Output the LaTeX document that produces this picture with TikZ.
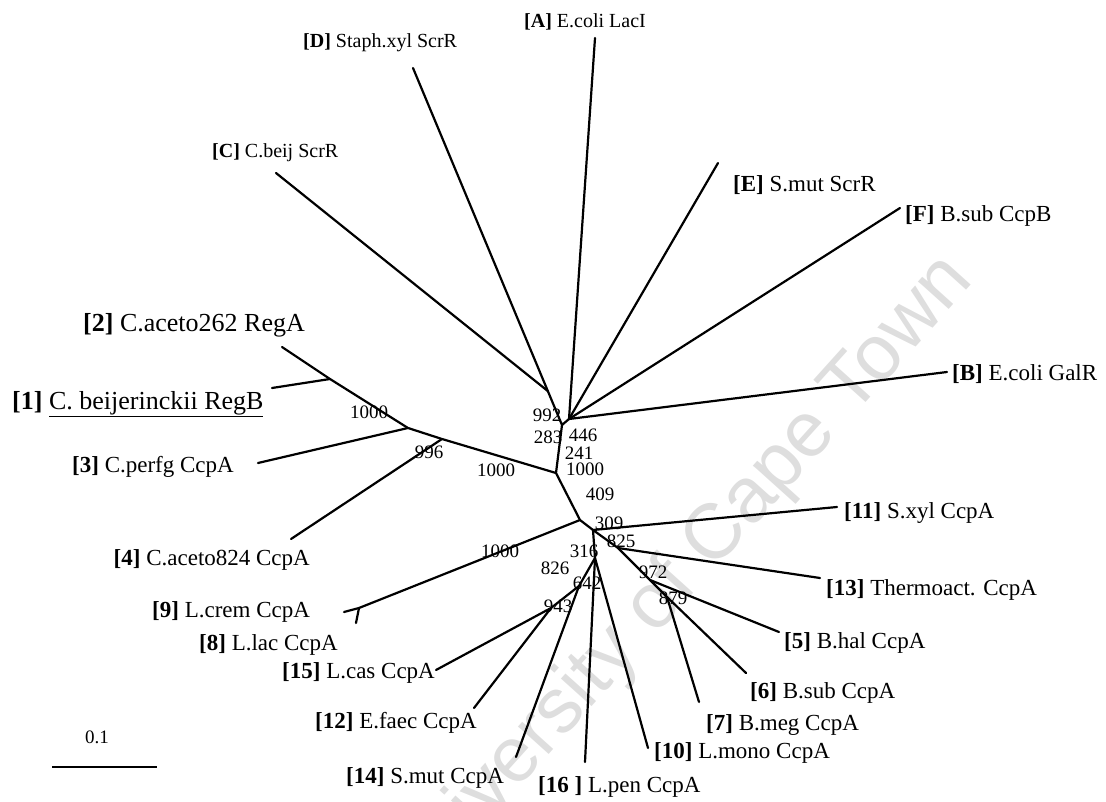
\documentclass[tikz,border=0pt]{standalone}
\usepackage{fontspec}
\usetikzlibrary{calc}
\setmainfont{Liberation Serif}
\newfontfamily\wmfont{Liberation Sans}
\begin{document}
\begin{tikzpicture}[x=1pt,y=-1pt,
  br/.style={line width=2.2pt,line cap=round},
  labs/.style={font=\fontsize{20}{22}\selectfont,inner sep=0pt,anchor=west},
  lab/.style={font=\fontsize{23}{25}\selectfont,inner sep=0pt,anchor=west},
  labl/.style={font=\fontsize{26}{28}\selectfont,inner sep=0pt,anchor=west},
  bs/.style={font=\fontsize{19}{21}\selectfont,inner sep=0pt}]
\useasboundingbox (0,0) rectangle (1106,802);
% watermark
\node[font=\wmfont\fontsize{78}{80}\selectfont,text=black!13,rotate=48,anchor=east,inner sep=0pt] (wm) at (960,268) {University of Cape Town};
% internal nodes
\coordinate (T) at (569,419);
\coordinate (ND) at (562,425);
\coordinate (L1) at (556,473);
\coordinate (N996) at (442,439);
\coordinate (NL) at (408,428);
\coordinate (N1) at (330,379);
\coordinate (L2) at (580,520);
\coordinate (N309) at (593,530);
\coordinate (N825) at (618,548);
\coordinate (N316) at (595,558);
\coordinate (N642) at (579,586);
\coordinate (N943) at (551,608);
\coordinate (N972) at (650,580);
\coordinate (N879) at (667,597);
\coordinate (N8) at (359,608);
% leaves
\coordinate (lA) at (595,38);
\coordinate (lD) at (413,68);
\coordinate (lC) at (276,173);
\coordinate (lE) at (718,163);
\coordinate (lF) at (900,208);
\coordinate (lB) at (947,372);
\coordinate (l2) at (282,347);
\coordinate (l1) at (272,388);
\coordinate (l3) at (258,463);
\coordinate (l4) at (291,539);
\coordinate (l9) at (344,612);
\coordinate (l8) at (356,623);
\coordinate (l11) at (837,507);
\coordinate (l13) at (820,578);
\coordinate (l5) at (779,632);
\coordinate (l6) at (746,673);
\coordinate (l7) at (699,702);
\coordinate (l10) at (648,748);
\coordinate (l16) at (585,762);
\coordinate (l14) at (516,757);
\coordinate (l12) at (474,708);
\coordinate (l15) at (436,670);
\coordinate (CJ) at ($(lD)!0.905!(ND)$);
% branches
\draw[br] (lD) -- (ND) -- (T);
\draw[br] (lC) -- (CJ);
\draw[br] (T) -- (lA);
\draw[br] (T) -- (lE);
\draw[br] (T) -- (lF);
\draw[br] (T) -- (lB);
\draw[br] (ND) -- (L1) -- (N996) -- (NL) -- (N1) -- (l2);
\draw[br] (N1) -- (l1);
\draw[br] (NL) -- (l3);
\draw[br] (N996) -- (l4);
\draw[br] (L1) -- (L2) -- (N309) -- (N825) -- (N972) -- (N879) -- (l6);
\draw[br] (L2) -- (N8) -- (l9);
\draw[br] (N8) -- (l8);
\draw[br] (N309) -- (l11);
\draw[br] (N825) -- (l13);
\draw[br] (N972) -- (l5);
\draw[br] (N879) -- (l7);
\draw[br] (N309) -- (N316) -- (l10);
\draw[br] (N316) -- (l16);
\draw[br] (N316) -- (N642) -- (l14);
\draw[br] (N642) -- (N943) -- (l12);
\draw[br] (N943) -- (l15);
% leaf labels
\node[labs,anchor=center] (tA) at (585,22) {\textbf{[A]} E.coli LacI};
\node[labs] (tD) at (303,43) {\textbf{[D]} Staph.xyl ScrR};
\node[labs] (tC) at (212,153) {\textbf{[C]} C.beij ScrR};
\node[lab] (tE) at (733,185) {\textbf{[E]} S.mut ScrR};
\node[lab] (tF) at (905,216) {\textbf{[F]} B.sub CcpB};
\node[lab] (tB) at (952,374) {\textbf{[B]} E.coli GalR};
\node[labl] (t2) at (83,325) {\textbf{[2]} C.aceto262 RegA};
\node[labl] (t1) at (12,404) {\textbf{[1]} \underline{C. beijerinckii RegB}};
\node[lab] (t3) at (72,467) {\textbf{[3]} C.perfg CcpA};
\node[lab,anchor=east] (t4) at (310,560) {\textbf{[4]} C.aceto824 CcpA};
\node[lab] (t9) at (152,612) {\textbf{[9]} L.crem CcpA};
\node[lab] (t8) at (199,645) {\textbf{[8]} L.lac CcpA};
\node[lab] (t15) at (282,673) {\textbf{[15]} L.cas CcpA};
\node[lab] (t12) at (315,723) {\textbf{[12]} E.faec CcpA};
\node[lab] (t14) at (346,778) {\textbf{[14]} S.mut CcpA};
\node[lab] (t16) at (538,787) {\textbf{[16 ]} L.pen CcpA};
\node[lab] (t10) at (654,753) {\textbf{[10]} L.mono CcpA};
\node[lab] (t7) at (706,725) {\textbf{[7]} B.meg CcpA};
\node[lab] (t6) at (750,693) {\textbf{[6]} B.sub CcpA};
\node[lab] (t5) at (784,643) {\textbf{[5]} B.hal CcpA};
\node[lab] (t13) at (826,590) {\textbf{[13]} Thermoact. CcpA};
\node[lab] (t11) at (844,513) {\textbf{[11]} S.xyl CcpA};
% bootstrap values
\node[bs] (b1) at (369,412) {1000};
\node[bs] (b2) at (429,452) {996};
\node[bs] (b3) at (496,470) {1000};
\node[bs] (b4) at (547,415) {992};
\node[bs] (b5) at (548,437) {283};
\node[bs] (b6) at (583,435) {446};
\node[bs] (b7) at (579,453) {241};
\node[bs] (b8) at (585,469) {1000};
\node[bs] (b9) at (600,494) {409};
\node[bs] (b10) at (609,523) {309};
\node[bs] (b11) at (621,541) {825};
\node[bs] (b12) at (584,551) {316};
\node[bs] (b13) at (555,568) {826};
\node[bs] (b14) at (500,551) {1000};
\node[bs] (b15) at (587,583) {642};
\node[bs] (b16) at (558,606) {943};
\node[bs] (b17) at (653,572) {972};
\node[bs] (b18) at (673,598) {879};
% scale bar
\coordinate (s1) at (52,767);
\coordinate (s2) at (157,767);
\draw[line width=1.8pt] (s1) -- (s2);
\node[bs] (sl) at (97,737) {0.1};
\end{tikzpicture}
\end{document}
